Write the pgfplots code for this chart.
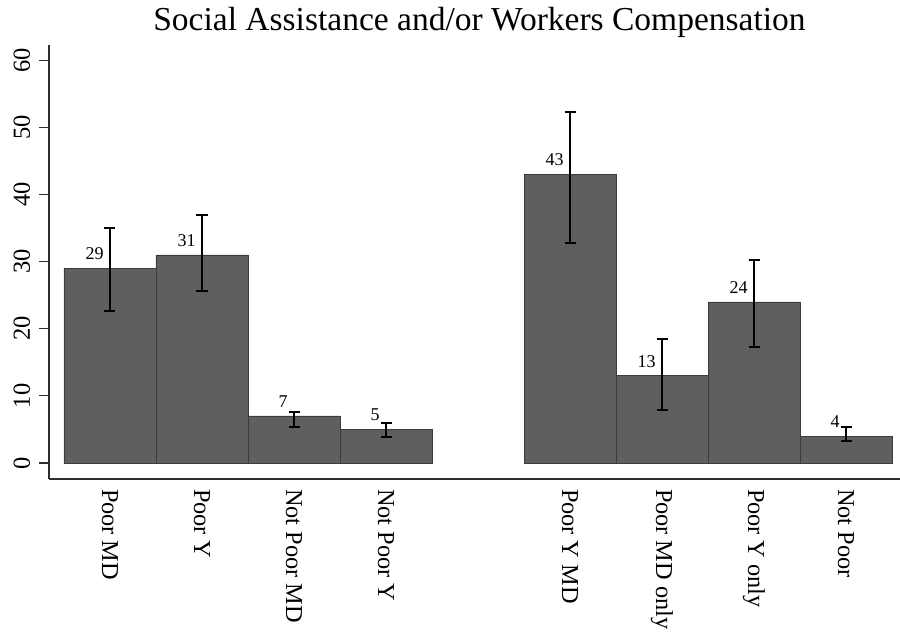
\documentclass[border=0pt]{standalone}
\usepackage{fontspec}
\setmainfont{Liberation Serif}
\usepackage{pgfplots}
\usepackage{pgfplotstable}
\pgfplotsset{compat=1.18}

\definecolor{barfill}{RGB}{95,95,95}
\definecolor{baredge}{RGB}{60,60,60}
\definecolor{axisc}{RGB}{45,45,45}

% value, upper and lower distance to the CI limits
\pgfplotstableread{
x y ep em
0 29 6.0 6.3
1 31 5.9 5.4
2 7 0.6 1.7
3 5 0.9 1.1
5 43 9.3 10.2
6 13 5.5 5.1
7 24 6.2 6.7
8 4 1.3 0.7
}\sawc

\begin{document}
\begin{tikzpicture}
\begin{axis}[
    scale only axis,
    width=851bp, height=434bp,
    xmin=-0.663, xmax=8.587,
    ymin=-2.4, ymax=62.3,
    axis lines*=left,
    axis line style={color=axisc, line width=1.4bp},
    tick align=outside,
    major tick length=10bp,
    ytick={0,10,...,60},
    ytick style={color=axisc, line width=1.2bp},
    xtick={0,1,2,3,5,6,7,8},
    xtick style={draw=none},
    xticklabels={Poor MD, Poor Y, Not Poor MD, Not Poor Y, Poor Y MD, Poor MD only, Poor Y only, Not Poor},
    xticklabel style={rotate=-90, anchor=west, inner sep=0pt, outer sep=0pt, font=\fontsize{24.3bp}{28bp}\selectfont},
    yticklabel style={rotate=90, anchor=south, inner sep=0pt, outer sep=9bp, font=\fontsize{24.5bp}{28bp}\selectfont},
    /pgf/number format/assume math mode=true,
    title={Social Assistance and/or Workers Compensation},
    title style={at={(0.5,1)}, anchor=base, yshift=8.3bp, xshift=5bp, inner sep=0pt, font=\fontsize{33.5bp}{38bp}\selectfont},
    ybar, bar width=1,
    clip=false,
    nodes near coords={\pgfmathprintnumber[fixed, precision=0]{\pgfplotspointmeta}},
    every node near coord/.append style={anchor=south east, inner sep=0pt, xshift=-6bp, yshift=8bp, color=black, font=\fontsize{18bp}{21bp}\selectfont},
]
\addplot[fill=barfill, draw=baredge, line width=0.8bp,
    error bars/.cd, y dir=both, y explicit,
    error bar style={black, line width=2bp},
    error mark options={black, rotate=90, mark size=5.5bp, line width=2bp}]
    table[x=x, y=y, y error plus=ep, y error minus=em] {\sawc};
\end{axis}
\pgfresetboundingbox
\useasboundingbox (-49bp,-153bp) rectangle (851bp,479bp);
\end{tikzpicture}
\end{document}
